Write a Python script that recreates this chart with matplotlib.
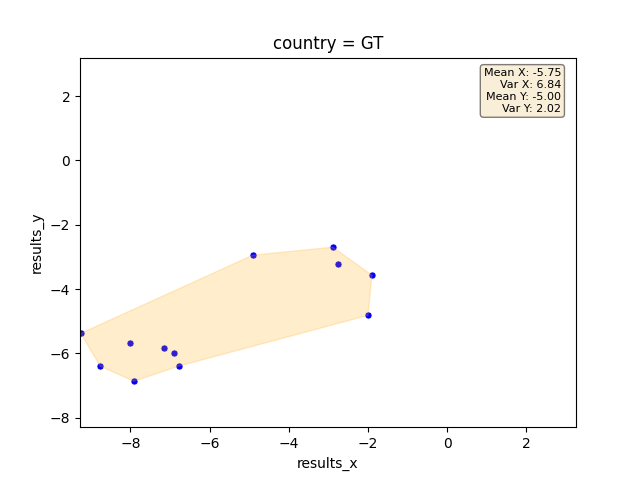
import matplotlib
matplotlib.use("Agg")
import matplotlib.pyplot as plt

results_x = [-9.25, -8.76, -7.91, -8.01, -7.16, -6.90, -6.78, -4.91, -2.89, -2.76, -1.90, -2.00]
results_y = [-5.38, -6.40, -6.87, -5.69, -5.84, -6.00, -6.40, -2.95, -2.70, -3.23, -3.57, -4.82]
# puntos del contorno, en orden
hull_idx = [0, 1, 2, 6, 11, 10, 8, 7]
stats = ["Mean X: -5.75", "Var X: 6.84", "Mean Y: -5.00", "Var Y: 2.02"]

fig, ax = plt.subplots(figsize=(6.4, 4.8), dpi=100)
ax.scatter(results_x, results_y, s=26, color="blue", edgecolor="white", linewidth=0.5)
ax.fill([results_x[i] for i in hull_idx], [results_y[i] for i in hull_idx],
        color="orange", alpha=0.2)

ax.set_xlim(-9.27, 3.25)
ax.set_ylim(-8.30, 3.20)
ax.set_title("country = GT")
ax.set_xlabel("results_x")
ax.set_ylabel("results_y")

ax.text(0.97, 0.972, "\n".join(stats), transform=ax.transAxes, fontsize=8,
        ha="right", va="top", multialignment="right", linespacing=1.25,
        bbox=dict(boxstyle="round", facecolor="wheat", alpha=0.5))

fig.savefig("out.png", dpi=100)
